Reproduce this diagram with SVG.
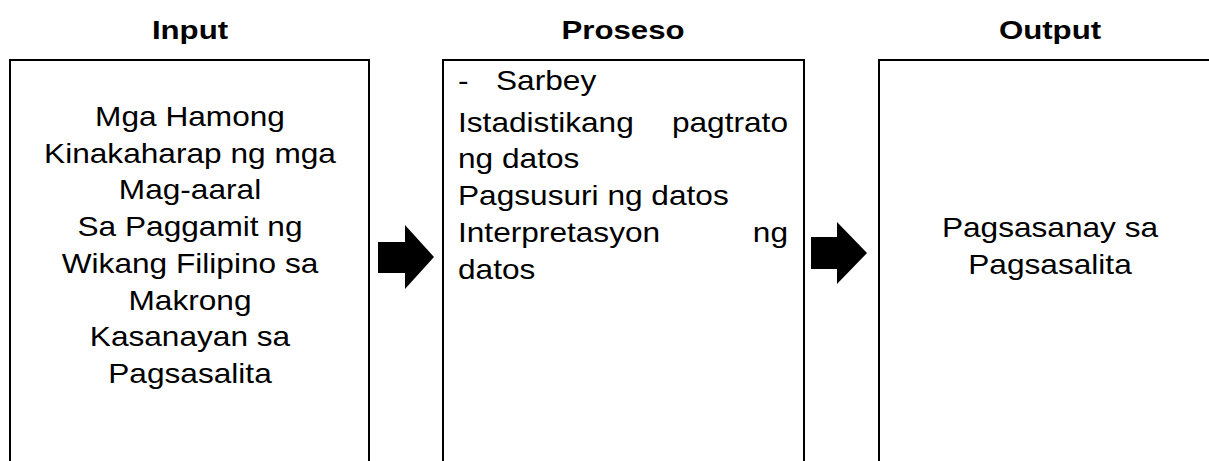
<svg xmlns="http://www.w3.org/2000/svg" width="1209" height="461" viewBox="0 0 1209 461">
<style>
.box{fill:#fff;stroke:#000;stroke-width:2}
.t{font-family:"Liberation Sans",Arial,sans-serif;font-size:28px;fill:#000}
.c{text-anchor:middle}
.e{text-anchor:end}
.h{font-family:"Liberation Sans",Arial,sans-serif;font-size:26px;font-weight:bold;fill:#000;text-anchor:middle}
.arr{fill:#000}
</style>
<rect width="1209" height="461" fill="#fff"/>
<g id="input">
<text class="h" transform="translate(190,39) scale(1.2,1)">Input</text>
<rect class="box" x="10" y="60" width="359" height="420"/>
<text class="t c" transform="translate(190,126) scale(1.13,1)">Mga Hamong</text>
<text class="t c" transform="translate(190,162.7) scale(1.13,1)">Kinakaharap ng mga</text>
<text class="t c" transform="translate(190,199.4) scale(1.13,1)">Mag-aaral</text>
<text class="t c" transform="translate(190,236.1) scale(1.13,1)">Sa Paggamit ng</text>
<text class="t c" transform="translate(190,272.8) scale(1.13,1)">Wikang Filipino sa</text>
<text class="t c" transform="translate(190,309.5) scale(1.13,1)">Makrong</text>
<text class="t c" transform="translate(190,346.2) scale(1.13,1)">Kasanayan sa</text>
<text class="t c" transform="translate(190,383) scale(1.13,1)">Pagsasalita</text>
</g>
<g id="proseso">
<text class="h" transform="translate(623,39) scale(1.2,1)">Proseso</text>
<rect class="box" x="443" y="60" width="361" height="420"/>
<text class="t" transform="translate(458,90) scale(1.13,1)">-</text>
<text class="t" transform="translate(496,90) scale(1.13,1)">Sarbey</text>
<text class="t" transform="translate(458,131.7) scale(1.13,1)">Istadistikang</text>
<text class="t e" transform="translate(788,131.7) scale(1.13,1)">pagtrato</text>
<text class="t" transform="translate(458,168) scale(1.13,1)">ng datos</text>
<text class="t" transform="translate(458,205) scale(1.13,1)">Pagsusuri ng datos</text>
<text class="t" transform="translate(458,242) scale(1.13,1)">Interpretasyon</text>
<text class="t e" transform="translate(788,242) scale(1.13,1)">ng</text>
<text class="t" transform="translate(458,279) scale(1.13,1)">datos</text>
</g>
<g id="output">
<text class="h" transform="translate(1050,39) scale(1.2,1)">Output</text>
<rect class="box" x="879" y="60" width="400" height="420"/>
<text class="t c" transform="translate(1050,237) scale(1.13,1)">Pagsasanay sa</text>
<text class="t c" transform="translate(1050,274) scale(1.13,1)">Pagsasalita</text>
</g>
<g id="connectors">
<polygon class="arr" points="378,242 405,242 405,225 434,257 405,289 405,273 378,273"/>
<polygon class="arr" points="811,237 837,237 837,222 867,253 837,284 837,269 811,269"/>
</g>
</svg>
